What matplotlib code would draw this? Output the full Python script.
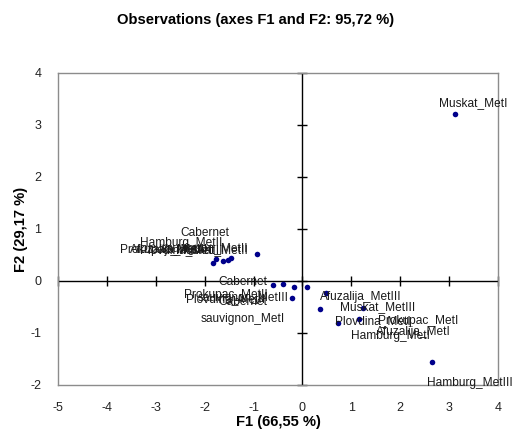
import numpy as np
import matplotlib
matplotlib.use("Agg")
from matplotlib import pyplot as plt

# PCA observation scores (F1, F2)
names = [
    "Muskat_MetI", "Hamburg_MetIII", "Afuzalija_MetIII", "Muskat_MetIII",
    "Prokupac_MetI", "Plovdina_MetI", "Afuzalija_MetI", "Hamburg_MetI",
    "Plovdina_MetII", "Prokupac_MetII", "Cabernet\nsauvignon_MetIII",
    "Cabernet\nsauvignon_MetI", "Muskat_MetII", "Prokupac_MetIII",
    "Afuzalija_MetII", "Hamburg_MetII", "Plovdina_MetIII",
    "Cabernet\nsauvignon_MetII",
]
f1 = [3.13, 2.64, 0.49, 1.24, 1.15, 0.72, 0.35, 0.10, -0.22, -0.61, -0.40,
      -0.18, -0.93, -1.83, -1.76, -1.63, -1.52, -1.47]
f2 = [3.21, -1.55, -0.24, -0.51, -0.74, -0.80, -0.53, -0.11, -0.32, -0.08,
      -0.06, -0.11, 0.52, 0.35, 0.42, 0.38, 0.40, 0.44]

xticks = [-5, -4, -3, -2, -1, 0, 1, 2, 3, 4]
yticks = [-2, -1, 0, 1, 2, 3, 4]

# label offsets in pixels (dx, dy) from each point
offsets = [(-16, 11), (-5, -21), (-6, -4), (-23, 0), (19, -2), (-3, 2),
           (56, -23), (44, -49), (-106, -1), (-89, -10), (-40, -6),
           (-51, -24), (-81, 4), (-93, 13), (-86, 9), (-83, 18), (-88, 10),
           (-26, 17)]

plt.rcParams["font.family"] = ["Liberation Sans", "DejaVu Sans"]
plt.rcParams["axes.unicode_minus"] = False
fig = plt.figure(figsize=(5.12, 4.41), dpi=100)
ax = fig.add_axes([0.1133, 0.127, 0.8594, 0.7075])

fs = 9
ax.set_xlim(-5, 4)
ax.set_ylim(-2, 4)
ax.set_xticks(xticks)
ax.set_yticks(yticks)
ax.tick_params(length=0, labelsize=fs, pad=12, colors="#222222")
for sp in ax.spines.values():
    sp.set_color("#8c8c8c")
    sp.set_linewidth(1.0)

# axes through the origin with tick marks
ax.axhline(0, color="black", lw=1.0, zorder=1)
ax.axvline(0, color="black", lw=1.0, zorder=1)
ax.plot(xticks, np.zeros(len(xticks)), ls="none", marker="|", ms=7,
        mew=1.0, color="black", clip_on=False, zorder=1)
ax.plot(np.zeros(len(yticks)), yticks, ls="none", marker="_", ms=7,
        mew=1.0, color="black", clip_on=False, zorder=1)

ax.scatter(f1, f2, s=16, c="#00008b", linewidths=0, zorder=3)

for name, x, y, (dx, dy) in zip(names, f1, f2, offsets):
    if "\n" in name:
        ha = "center"
    else:
        ha = "left"
    ax.annotate(name, (x, y), xytext=(dx, dy), textcoords="offset pixels",
                ha=ha, va="center", multialignment="center", fontsize=8.6,
                color="#1a1a1a", linespacing=1.5, zorder=4,
                annotation_clip=False)

ax.set_xlabel("F1 (66,55 %)", fontsize=10.6, fontweight="bold", labelpad=1)
ax.set_ylabel("F2 (29,17 %)", fontsize=10.6, fontweight="bold", labelpad=1.5)
fig.text(0.5, 0.955, "Observations (axes F1 and F2: 95,72 %)", ha="center",
         va="center", fontsize=10.6, fontweight="bold")

plt.savefig("out.png", dpi=100)
